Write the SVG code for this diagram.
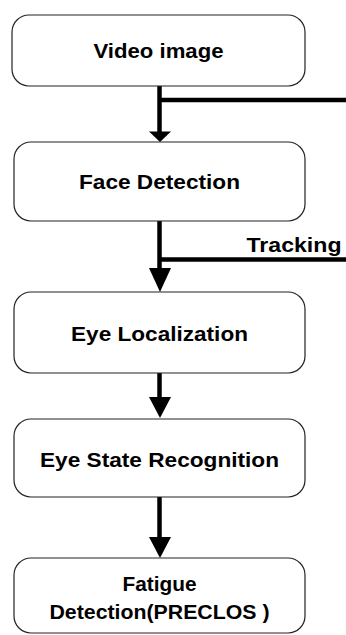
<svg xmlns="http://www.w3.org/2000/svg" width="346" height="635" viewBox="0 0 346 635">
<style>
.box{fill:#fff;stroke:#222;stroke-width:1.2}
.t{font-family:"Liberation Sans",Arial,sans-serif;font-weight:bold;font-size:21px;fill:#000;text-anchor:middle}
.c{stroke:#000;stroke-width:4.5;fill:none}
.h{fill:#000}
</style>
<rect width="346" height="635" fill="#fff"/>
<g id="connectors">
<line class="c" x1="159.5" y1="85" x2="159.5" y2="132"/>
<polygon class="h" points="149,131.5 171,131.5 160,142"/>
<line class="c" x1="159.5" y1="100" x2="346" y2="100"/>
<line class="c" x1="159.5" y1="220" x2="159.5" y2="269"/>
<polygon class="h" points="149,268 171,268 160,292"/>
<line class="c" x1="159.5" y1="259.5" x2="346" y2="259.5"/>
<text class="t" x="294" y="252" textLength="95" lengthAdjust="spacingAndGlyphs">Tracking</text>
<line class="c" x1="159.5" y1="372" x2="159.5" y2="398"/>
<polygon class="h" points="149,397 171,397 160,418"/>
<line class="c" x1="159.5" y1="496" x2="159.5" y2="538"/>
<polygon class="h" points="149,537 171,537 160,558"/>
</g>
<g id="video"><rect class="box" x="12" y="15" width="293" height="71" rx="17"/><text class="t" x="158.5" y="58.3" textLength="130" lengthAdjust="spacingAndGlyphs">Video image</text></g>
<g id="face"><rect class="box" x="14" y="142" width="291" height="79" rx="17"/><text class="t" x="159.5" y="188.5" textLength="161" lengthAdjust="spacingAndGlyphs">Face Detection</text></g>
<g id="eyeloc"><rect class="box" x="14" y="292" width="291" height="81" rx="17"/><text class="t" x="159.5" y="341" textLength="177" lengthAdjust="spacingAndGlyphs">Eye Localization</text></g>
<g id="eyestate"><rect class="box" x="14" y="419" width="291" height="78" rx="17"/><text class="t" x="159.5" y="467" textLength="239" lengthAdjust="spacingAndGlyphs">Eye State Recognition</text></g>
<g id="fatigue"><rect class="box" x="14" y="558" width="291" height="75" rx="17"/><text class="t" x="159.5" y="590.5" textLength="74" lengthAdjust="spacingAndGlyphs">Fatigue</text><text class="t" x="159.5" y="619" textLength="220" lengthAdjust="spacingAndGlyphs">Detection(PRECLOS )</text></g>
</svg>
